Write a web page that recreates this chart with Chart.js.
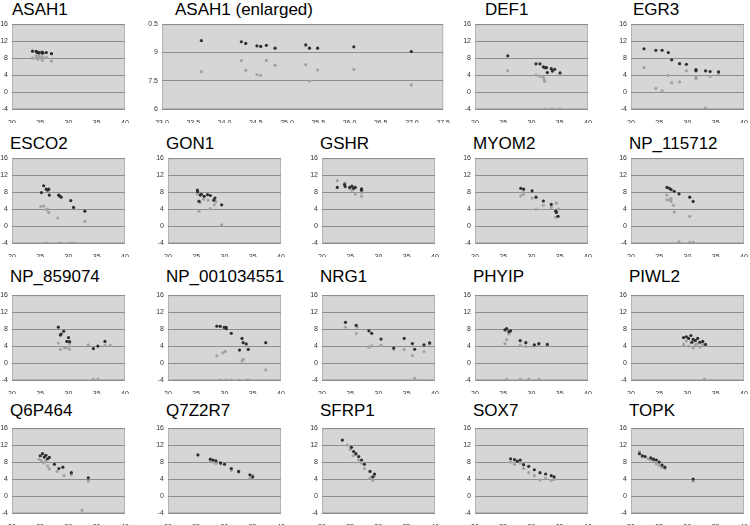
<!DOCTYPE html>
<html>
<head>
<meta charset="utf-8">
<script src="https://cdn.jsdelivr.net/npm/chart.js@4.4.0/dist/chart.umd.min.js"></script>
<style>
  body { margin: 0; background: #fff; font-family: "Liberation Sans", Arial, sans-serif; }
  #wrap { position: relative; width: 750px; height: 525px; overflow: hidden; }
  .ttl { position: absolute; font-size: 17px; line-height: 17px; color: #000; white-space: nowrap; }
  canvas { position: absolute; }
</style>
</head>
<body>
<div id="wrap"></div>
<script>
// gene names, one per panel
const genes = ["ASAH1", "ASAH1 (enlarged)", "DEF1", "EGR3",
  "ESCO2", "GON1", "GSHR", "MYOM2", "NP_115712",
  "NP_859074", "NP_001034551", "NRG1", "PHYIP", "PIWL2",
  "Q6P464", "Q7Z2R7", "SFRP1", "SOX7", "TOPK"];

// axis ticks
const xTicksStd = [20, 25, 30, 35, 40];
const yTicksStd = [-4, 0, 4, 8, 12, 16];
const xTicksBig = [23, 23.5, 24, 24.5, 25, 25.5, 26, 26.5, 27, 27.5];
const yTicksBig = [6, 7.5, 9, 10.5];

// [x, y] points: dark series and light series
const asah1Dark = [[23.63, 9.63], [24.27, 9.57], [24.34, 9.48], [24.52, 9.35], [24.58, 9.32], [24.67, 9.38],
  [24.81, 9.23], [25.30, 9.40], [25.36, 9.23], [25.49, 9.23], [26.07, 9.30], [26.99, 9.05]];
const asah1Light = [[23.63, 7.98], [24.27, 8.57], [24.34, 8.05], [24.52, 7.82], [24.58, 7.78], [24.67, 8.58],
  [24.81, 8.32], [25.30, 8.35], [25.36, 7.48], [25.49, 8.07], [26.07, 8.10], [26.99, 7.28]];

const def1Dark = [[25.8, 8.55], [30.8, 6.65], [31.5, 6.65], [32.1, 5.95], [32.35, 5.75], [32.65, 5.75],
  [32.8, 4.6], [33.5, 5.5], [33.7, 4.95], [34.1, 5.35], [35.05, 4.5]];
const def1Light = [[25.8, 5.0], [30.8, 4.0], [31.5, 3.7], [32.1, 3.4], [32.25, 2.9], [32.35, 2.5],
  [32.5, -4], [33.5, -4], [33.8, -4], [35.05, -4]];

const egr3Dark = [[22.3, 10.2], [24.4, 9.86], [25.5, 9.86], [26.6, 9.33], [27.2, 7.6], [28.6, 6.7],
  [29.8, 6.55], [31.5, 5.3], [31.5, 5.0], [33.2, 5.0], [34.0, 4.84], [35.5, 4.76]];
const egr3Light = [[22.3, 5.74], [24.4, 0.87], [25.5, 0.27], [26.6, 3.94], [27.2, 2.2], [28.6, 2.4],
  [29.8, 5.0], [31.5, 3.5], [31.5, 3.1], [33.2, -3.8], [34.0, 3.7], [35.5, 4.4]];

const esco2Dark = [[25.2, 7.9], [25.6, 9.5], [26.05, 8.7], [26.3, 8.45], [26.5, 8.7], [26.6, 7.3],
  [28.25, 7.3], [28.4, 7.1], [28.7, 6.8], [30.4, 6.0], [30.9, 4.4], [32.9, 3.5]];
const esco2Light = [[25.1, 4.6], [25.6, 4.7], [26.05, 3.9], [26.3, 4.0], [26.5, 3.2], [26.05, -4],
  [28.1, 1.9], [28.25, -4], [28.6, -4], [30.3, -4], [30.9, -4], [32.9, 1.1]];

const gon1Dark = [[25.2, 8.5], [25.25, 8.1], [25.7, 7.3], [25.9, 7.5], [26.4, 7.0], [27.0, 7.4],
  [27.5, 7.2], [28.1, 6.1], [28.3, 6.6], [29.5, 5.0], [25.5, 5.85]];
const gon1Light = [[25.2, 7.6], [25.4, 5.9], [25.7, 5.5], [26.3, 6.3], [27.1, 6.1], [27.5, 4.1],
  [28.2, 5.0], [28.5, 5.7], [25.5, 3.5], [29.5, 0.3]];

const gshrDark = [[22.7, 9.1], [24.0, 9.8], [24.1, 9.3], [24.9, 9.1], [25.3, 9.4], [25.6, 8.9],
  [25.9, 9.1], [27.0, 8.8], [27.0, 8.45]];
const gshrLight = [[22.7, 10.7], [24.0, 10.0], [24.1, 10.2], [24.9, 8.9], [25.3, 8.45], [25.6, 8.75],
  [25.9, 7.55], [27.0, 7.85], [27.0, 7.0]];

const myom2Dark = [[28.1, 8.9], [28.6, 8.7], [30.1, 8.3], [30.8, 6.8], [32.1, 5.9], [33.5, 5.1],
  [34.3, 3.5], [34.4, 3.2], [34.7, 2.3]];
const myom2Light = [[28.1, 7.1], [28.6, 7.9], [28.6, 7.5], [30.1, 6.6], [30.8, 4.0], [32.1, 4.9],
  [33.5, 4.4], [34.4, 5.4], [34.3, 2.1], [34.8, 4.0]];

const np115712Dark = [[26.35, 9.1], [26.8, 8.9], [27.1, 8.6], [27.65, 8.2], [28.5, 7.6], [30.4, 6.8], [31.0, 5.8]];
const np115712Light = [[26.35, 7.3], [26.35, 6.2], [26.8, 6.2], [27.1, 6.5], [27.1, 5.8], [27.5, 4.9],
  [27.65, 3.3], [28.5, -3.7], [30.4, 2.3], [30.4, -3.85], [31.0, -3.85]];

const np859074Dark = [[28.2, 8.45], [29.15, 7.5], [28.55, 6.6], [28.7, 6.85], [30.0, 6.0], [29.7, 5.1],
  [30.2, 5.05], [34.4, 3.4], [35.2, 4.0], [36.45, 5.1]];
const np859074Light = [[28.2, 4.7], [28.55, 3.2], [29.3, 3.55], [29.7, 3.7], [30.2, 3.25], [30.2, 4.6],
  [33.5, 4.3], [36.45, 4.15], [37.4, 4.15], [34.4, -3.8], [35.2, -3.8]];

const np001034551Dark = [[28.65, 8.7], [29.25, 8.65], [29.95, 8.4], [30.3, 8.4], [30.3, 8.1], [31.2, 7.0],
  [33.1, 5.8], [33.3, 4.8], [33.85, 4.5], [32.65, 3.05], [34.2, 3.2], [37.3, 4.8]];
const np001034551Light = [[28.65, 1.7], [29.7, 2.4], [30.15, 2.75], [33.1, 0.5], [33.3, 0.85], [37.3, -1.6],
  [29.25, -4], [30.3, -4], [31.2, -4], [32.65, -4], [33.85, -4], [34.2, -4]];

const nrg1Dark = [[24.15, 9.6], [26.05, 8.9], [28.3, 7.6], [28.8, 7.0], [30.45, 5.65], [32.7, 3.55],
  [34.55, 5.8], [36.0, 4.6], [36.4, 3.25], [38.05, 4.3], [39.05, 4.75]];
const nrg1Light = [[24.15, 8.45], [26.2, 8.45], [26.05, 6.95], [28.3, 3.75], [28.8, 4.05], [30.45, 4.15],
  [32.7, 3.2], [34.55, 3.2], [36.0, 1.75], [36.4, -3.6], [38.05, 2.7], [39.05, 4.5]];

const phyipDark = [[25.3, 7.8], [25.6, 8.1], [26.0, 7.4], [26.3, 7.6], [28.0, 5.3], [29.0, 4.8],
  [30.5, 4.3], [31.3, 4.6], [32.8, 4.4]];
const phyipLight = [[25.3, 4.6], [25.6, 5.5], [26.0, 6.9], [28.0, 4.2], [29.0, 3.9], [30.5, 4.0],
  [31.3, 4.2], [25.6, -3.8], [28.0, -3.8], [29.5, -3.8], [31.3, -3.8]];

const piwl2Dark = [[29.3, 6.0], [29.8, 6.2], [30.2, 5.8], [30.6, 6.5], [31.0, 5.6], [31.4, 5.3],
  [31.8, 5.8], [32.2, 4.9], [32.7, 5.1], [33.2, 4.4], [30.8, 4.9]];
const piwl2Light = [[29.3, 4.4], [29.8, 5.2], [30.2, 4.0], [30.6, 4.8], [31.0, 3.6], [31.4, 4.3],
  [31.8, 4.6], [32.2, 3.8], [32.7, 4.4], [33.2, 4.1], [33.0, -3.8]];

const q6p464Dark = [[25.0, 9.5], [25.4, 10.0], [25.7, 9.2], [26.0, 9.6], [26.3, 8.8], [26.6, 9.1],
  [27.5, 7.5], [28.3, 6.5], [29.0, 6.8], [30.5, 5.5], [33.5, 4.3]];
const q6p464Light = [[24.8, 8.7], [25.2, 8.3], [25.6, 7.8], [26.0, 8.4], [26.3, 7.1], [26.6, 6.4],
  [28.0, 5.8], [29.2, 4.8], [30.5, 5.0], [33.5, 3.5], [32.4, -3.4]];

const q7z2r7Dark = [[25.3, 9.7], [27.5, 8.7], [28.0, 8.5], [28.5, 8.3], [29.3, 7.8], [30.0, 7.5],
  [31.2, 6.5], [32.5, 5.8], [34.5, 5.0], [35.0, 4.5]];
const q7z2r7Light = [[27.5, 8.3], [28.0, 8.0], [28.5, 7.7], [29.3, 7.6], [31.2, 6.0], [32.5, 5.6],
  [34.5, 4.2], [35.0, 4.8]];

const sfrp1Dark = [[23.6, 13.2], [25.2, 11.5], [25.6, 10.5], [26.0, 10.0], [26.5, 9.3], [27.0, 8.5],
  [27.5, 7.5], [28.5, 5.8], [29.0, 4.5], [29.3, 5.2]];
const sfrp1Light = [[24.5, 12.0], [25.0, 11.0], [25.5, 9.5], [26.0, 9.8], [26.5, 8.5], [27.0, 7.8],
  [27.5, 6.5], [28.5, 4.3], [29.0, 3.7], [29.3, 4.8]];

const sox7Dark = [[26.3, 8.8], [27.0, 8.6], [27.5, 8.2], [28.0, 8.5], [28.6, 7.4], [29.5, 7.0],
  [30.5, 6.2], [31.5, 5.5], [32.5, 5.2], [33.5, 4.8], [34.0, 4.5]];
const sox7Light = [[26.3, 8.0], [27.0, 7.5], [27.5, 8.3], [28.0, 7.8], [28.6, 6.5], [29.5, 5.5],
  [30.5, 4.8], [31.5, 3.8], [32.5, 4.2], [33.5, 3.7], [34.0, 3.9]];

const topkDark = [[21.5, 10.0], [22.0, 9.5], [22.5, 9.3], [23.5, 9.0], [24.0, 8.7], [24.5, 8.5],
  [25.0, 8.0], [25.5, 7.3], [26.0, 6.8], [31.0, 4.0]];
const topkLight = [[21.5, 10.5], [22.0, 9.2], [23.0, 8.8], [23.5, 8.5], [24.0, 8.3], [24.5, 7.6],
  [25.0, 7.2], [25.5, 6.8], [26.0, 6.5], [31.0, 3.5]];

const darkSets = [asah1Dark, asah1Dark, def1Dark, egr3Dark, esco2Dark, gon1Dark, gshrDark, myom2Dark,
  np115712Dark, np859074Dark, np001034551Dark, nrg1Dark, phyipDark, piwl2Dark, q6p464Dark, q7z2r7Dark,
  sfrp1Dark, sox7Dark, topkDark];
const lightSets = [asah1Light, asah1Light, def1Light, egr3Light, esco2Light, gon1Light, gshrLight, myom2Light,
  np115712Light, np859074Light, np001034551Light, nrg1Light, phyipLight, piwl2Light, q6p464Light, q7z2r7Light,
  sfrp1Light, sox7Light, topkLight];

// plot-area boxes (left, top, width, height) and title offsets
const colL = [12, 168, 322, 475, 631];
const rowT = [21, 155, 292, 425];
const ttlTop = [1, 135, 268, 402];
const PW = 113, PH = 88;
const boxes = [];
boxes.push({ l: colL[0], t: rowT[0], w: PW, h: PH, tl: 12, big: false });
boxes.push({ l: 162, t: rowT[0], w: 282, h: PH, tl: 175, big: true });
boxes.push({ l: colL[3], t: rowT[0], w: PW, h: PH, tl: 485, big: false });
boxes.push({ l: colL[4], t: rowT[0], w: PW, h: PH, tl: 633, big: false });
for (let r = 1; r < 4; r++) {
  for (let c = 0; c < 5; c++) {
    boxes.push({ l: colL[c], t: rowT[r], w: PW, h: PH, tl: colL[c] - 2, big: false, row: r });
  }
}

const plotBg = {
  id: "plotBg",
  beforeDraw(chart) {
    const { ctx, chartArea: a } = chart;
    ctx.save();
    ctx.fillStyle = "#d6d6d6";
    ctx.fillRect(a.left, a.top, a.right - a.left, a.bottom - a.top);
    ctx.strokeStyle = "#b4b4b4";
    ctx.lineWidth = 1;
    ctx.strokeRect(a.left + 0.5, a.top + 0.5, a.right - a.left - 1, a.bottom - a.top - 1);
    ctx.restore();
  }
};

const wrap = document.getElementById("wrap");
const YW = 14, XH = 14, PT = 5, PR = 8;

genes.forEach((name, i) => {
  const b = boxes[i];
  const row = b.row || 0;

  const t = document.createElement("div");
  t.className = "ttl";
  t.textContent = name;
  t.style.left = b.tl + "px";
  t.style.top = ttlTop[row] + "px";
  wrap.appendChild(t);

  const cv = document.createElement("canvas");
  const cw = b.w + YW + PR, ch = b.h + PT + XH;
  cv.width = cw; cv.height = ch;
  cv.style.left = (b.l - YW) + "px";
  cv.style.top = (b.t - PT) + "px";
  cv.style.width = cw + "px";
  cv.style.height = ch + "px";
  wrap.appendChild(cv);

  const xt = b.big ? xTicksBig : xTicksStd;
  const yt = b.big ? yTicksBig : yTicksStd;

  new Chart(cv.getContext("2d"), {
    type: "scatter",
    data: {
      datasets: [
        { data: darkSets[i].map(p => ({ x: p[0], y: p[1] })), backgroundColor: "#2e2e2e", pointRadius: 1.6, borderWidth: 0 },
        { data: lightSets[i].map(p => ({ x: p[0], y: p[1] })), backgroundColor: "#a2a2a2", pointRadius: 1.6, borderWidth: 0 }
      ]
    },
    options: {
      responsive: false,
      animation: false,
      devicePixelRatio: 1,
      layout: { padding: { top: PT, right: PR, left: 0, bottom: 0 } },
      plugins: { legend: { display: false }, tooltip: { enabled: false } },
      scales: {
        x: {
          type: "linear",
          min: xt[0], max: xt[xt.length - 1],
          afterBuildTicks: s => { s.ticks = xt.map(v => ({ value: v })); },
          afterFit: s => { s.height = XH; },
          grid: { display: false },
          border: { display: false },
          ticks: { font: { size: 7, family: "Liberation Sans" }, color: "#333", padding: 2, maxRotation: 0, autoSkip: false }
        },
        y: {
          type: "linear",
          min: yt[0], max: yt[yt.length - 1],
          afterBuildTicks: s => { s.ticks = yt.map(v => ({ value: v })); },
          afterFit: s => { s.width = YW; },
          grid: { color: "#8e8e8e", lineWidth: 1, drawTicks: false },
          border: { display: false },
          ticks: { font: { size: 7, family: "Liberation Sans" }, color: "#333", padding: 4 }
        }
      }
    },
    plugins: [plotBg]
  });
});
</script>
</body>
</html>
